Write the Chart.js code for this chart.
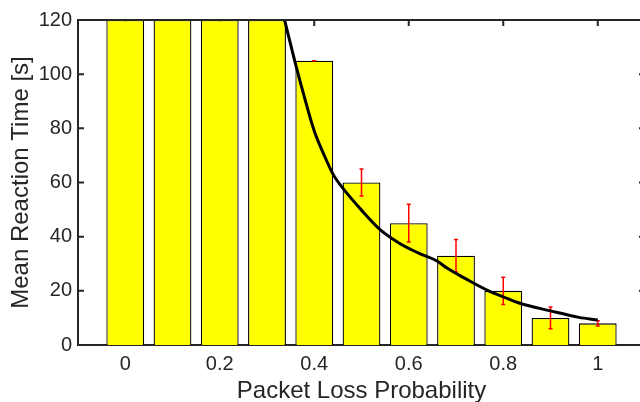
<!DOCTYPE html>
<html>
<head>
<meta charset="utf-8">
<script src="https://cdn.jsdelivr.net/npm/chart.js@4.4.0/dist/chart.umd.min.js"></script>
<style>
  html, body { margin: 0; padding: 0; background: #fff; overflow: hidden; }
</style>
</head>
<body>
<canvas id="chart" width="650" height="402"></canvas>
<script>
const lossProb = [0, 0.1, 0.2, 0.3, 0.4, 0.5, 0.6, 0.7, 0.8, 0.9, 1];
const meanTime = [120, 120, 120, 120, 105, 60, 45, 33, 20, 10, 8];
const timeError = [null, null, null, null, 0, 5, 7, 6, 5, 4, 1];

// fitted curve
const fitX = [0.33, 0.34, 0.36, 0.38, 0.40, 0.42, 0.44, 0.46, 0.50, 0.54, 0.58, 0.62, 0.66, 0.68, 0.72, 0.77, 0.80, 0.835, 0.90, 0.96, 1.0];
const fitY = [125, 118, 104, 91, 79, 70.5, 63, 58, 49.8, 42.5, 37.6, 34, 31, 28.5, 24.5, 19.9, 17.8, 15.4, 12.6, 10.2, 9.2];

const xTicks = [0, 0.2, 0.4, 0.6, 0.8, 1];
const xTickLabels = ['0', '0.2', '0.4', '0.6', '0.8', '1'];
const yTicks = [0, 20, 40, 60, 80, 100, 120];
const yTickLabels = ['0', '20', '40', '60', '80', '100', '120'];

const axisColor = '#262626';
const fontFamily = "'Liberation Sans', Arial, Helvetica, sans-serif";

// MATLAB style box: inward ticks, top/right edges, error bars
const matlabBox = {
    id: 'matlabBox',
    beforeDatasetsDraw(chart) {
        const {ctx, chartArea: a, scales: {x, y}} = chart;
        ctx.save();
        ctx.strokeStyle = axisColor;
        ctx.lineWidth = 2;
        ctx.beginPath();
        xTicks.forEach(v => {
            const px = x.getPixelForValue(v);
            ctx.moveTo(px, a.bottom); ctx.lineTo(px, a.bottom - 6);
            ctx.moveTo(px, a.top); ctx.lineTo(px, a.top + 6);
        });
        yTicks.forEach(v => {
            const py = y.getPixelForValue(v);
            ctx.moveTo(a.left, py); ctx.lineTo(a.left + 6, py);
            ctx.moveTo(a.right, py); ctx.lineTo(a.right - 6, py);
        });
        ctx.stroke();
        ctx.restore();
    },
    afterDatasetDraw(chart, args) {
        if (args.meta.type !== 'bar') return;
        const {ctx, chartArea: a, scales: {x, y}} = chart;
        ctx.save();
        ctx.beginPath();
        ctx.rect(a.left, a.top, a.right - a.left, a.bottom - a.top);
        ctx.clip();
        ctx.strokeStyle = '#ff0000';
        ctx.lineWidth = 1.5;
        ctx.beginPath();
        lossProb.forEach((p, i) => {
            if (timeError[i] === null) return;
            const px = x.getPixelForValue(p);
            const hi = y.getPixelForValue(meanTime[i] + timeError[i]);
            const lo = y.getPixelForValue(meanTime[i] - timeError[i]);
            ctx.moveTo(px, hi); ctx.lineTo(px, lo);
            ctx.moveTo(px - 2, hi); ctx.lineTo(px + 2, hi);
            ctx.moveTo(px - 2, lo); ctx.lineTo(px + 2, lo);
        });
        ctx.stroke();
        ctx.restore();
    },
    afterDatasetsDraw(chart) {
        const {ctx, chartArea: a} = chart;
        ctx.save();
        ctx.strokeStyle = axisColor;
        ctx.lineWidth = 2;
        ctx.beginPath();
        ctx.moveTo(a.left, a.top);
        ctx.lineTo(a.right, a.top);
        ctx.lineTo(a.right, a.bottom);
        ctx.stroke();
        ctx.restore();
    }
};

const ctx = document.getElementById('chart').getContext('2d');
new Chart(ctx, {
    type: 'bar',
    data: {
        datasets: [
            {
                type: 'bar',
                data: lossProb.map((p, i) => ({x: p, y: meanTime[i]})),
                backgroundColor: '#ffff00',
                borderColor: '#000000',
                borderWidth: 1.3,
                barPercentage: 0.8,
                categoryPercentage: 1,
                order: 1
            },
            {
                type: 'line',
                data: fitX.map((v, i) => ({x: v, y: fitY[i]})),
                borderColor: '#000000',
                borderWidth: 3,
                pointRadius: 0,
                fill: false,
                cubicInterpolationMode: 'monotone',
                order: 0
            }
        ]
    },
    options: {
        responsive: false,
        animation: false,
        layout: { padding: { top: 20, right: 5, left: 0, bottom: 0 } },
        plugins: { legend: { display: false }, tooltip: { enabled: false } },
        scales: {
            x: {
                type: 'linear',
                min: -0.1,
                max: 1.1,
                offset: false,
                grid: { display: false, drawTicks: false },
                border: { color: axisColor, width: 2 },
                afterBuildTicks: s => { s.ticks = xTicks.map(v => ({value: v})); },
                afterFit: s => { s.height = 57; },
                ticks: {
                    color: axisColor,
                    padding: 7,
                    maxRotation: 0,
                    font: { family: fontFamily, size: 20 },
                    callback: (v, i) => xTickLabels[i]
                },
                title: {
                    display: true,
                    text: 'Packet Loss Probability',
                    color: axisColor,
                    padding: { top: 0, bottom: -4 },
                    font: { family: fontFamily, size: 24 }
                }
            },
            y: {
                min: 0,
                max: 120,
                grid: { display: false, drawTicks: false },
                border: { color: axisColor, width: 2 },
                afterBuildTicks: s => { s.ticks = yTicks.map(v => ({value: v})); },
                afterFit: s => { s.width = 78; },
                ticks: {
                    color: axisColor,
                    padding: 6,
                    font: { family: fontFamily, size: 20 },
                    callback: (v, i) => yTickLabels[i]
                },
                title: {
                    display: true,
                    text: 'Mean Reaction Time [s]',
                    color: axisColor,
                    padding: { top: 7, bottom: 0 },
                    font: { family: fontFamily, size: 24 }
                }
            }
        }
    },
    plugins: [matlabBox]
});
</script>
</body>
</html>
